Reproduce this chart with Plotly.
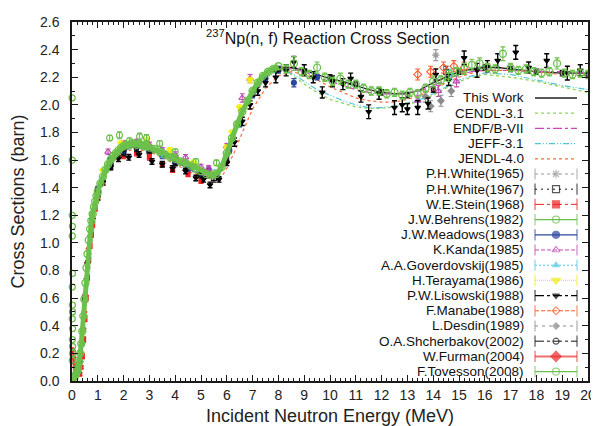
import plotly.graph_objects as go

# ---------------- data ----------------
TW_E = [0.0, 0.05, 0.1, 0.15, 0.2, 0.25, 0.3, 0.35, 0.4, 0.45,
        0.5, 0.55, 0.6, 0.65, 0.7, 0.75, 0.8, 0.9, 1.0, 1.2,
        1.4, 1.6, 1.8, 2.0, 2.3, 2.6, 3.0, 3.5, 4.0, 4.5,
        5.0, 5.3, 5.6, 5.8, 6.0, 6.2, 6.4, 6.6, 6.8, 7.0,
        7.3, 7.6, 8.0, 8.5, 9.0, 9.5, 10.0, 10.5, 11.0, 11.5,
        12.0, 12.5, 13.0, 13.5, 14.0, 14.5, 15.0, 15.5, 16.0, 16.5,
        17.0, 17.5, 18.0, 19.0, 20.0]
TW_S = [0.0, 0.01, 0.02, 0.04, 0.06, 0.1, 0.15, 0.22, 0.32, 0.45,
        0.6, 0.76, 0.9, 1.01, 1.09, 1.15, 1.2, 1.28, 1.35, 1.46,
        1.54, 1.6, 1.64, 1.67, 1.69, 1.70, 1.68, 1.64, 1.59, 1.54,
        1.49, 1.47, 1.48, 1.54, 1.64, 1.75, 1.85, 1.94, 2.02, 2.09,
        2.17, 2.23, 2.27, 2.27, 2.25, 2.22, 2.19, 2.17, 2.14, 2.11,
        2.09, 2.08, 2.08, 2.11, 2.16, 2.2, 2.24, 2.26, 2.27, 2.27,
        2.26, 2.25, 2.24, 2.23, 2.23]

EV_E = [0.0, 0.1, 0.2, 0.3, 0.4, 0.5, 0.6, 0.7, 0.8, 1.0,
        1.2, 1.5, 2.0, 2.5, 3.0, 3.5, 4.0, 4.5, 5.0, 5.5,
        5.8, 6.0, 6.3, 6.6, 7.0, 7.5, 8.0, 8.5, 9.0, 9.5,
        10.0, 10.5, 11.0, 11.5, 12.0, 12.5, 13.0, 13.5, 14.0, 14.5,
        15.0, 15.5, 16.0, 17.0, 18.0, 19.0, 20.0]
CENDL_S = [0.0, 0.02, 0.06, 0.15, 0.32, 0.6, 0.9, 1.09, 1.2, 1.35,
           1.46, 1.58, 1.67, 1.69, 1.67, 1.63, 1.58, 1.53, 1.49, 1.47,
           1.53, 1.62, 1.78, 1.92, 2.07, 2.2, 2.26, 2.22, 2.15, 2.09,
           2.04, 2.01, 1.985, 1.975, 1.975, 1.985, 2.0, 2.03, 2.07, 2.12,
           2.17, 2.2, 2.22, 2.2, 2.17, 2.13, 2.09]
ENDF_S = [0.0, 0.02, 0.06, 0.15, 0.32, 0.6, 0.9, 1.09, 1.2, 1.35,
          1.46, 1.58, 1.67, 1.70, 1.68, 1.64, 1.59, 1.54, 1.49, 1.47,
          1.52, 1.62, 1.78, 1.93, 2.08, 2.2, 2.26, 2.26, 2.24, 2.2,
          2.17, 2.14, 2.11, 2.09, 2.08, 2.08, 2.09, 2.1, 2.14, 2.18,
          2.22, 2.24, 2.25, 2.25, 2.24, 2.24, 2.23]
JEFF_S = [0.0, 0.02, 0.06, 0.15, 0.32, 0.6, 0.9, 1.09, 1.2, 1.35,
          1.46, 1.58, 1.67, 1.69, 1.67, 1.63, 1.58, 1.53, 1.49, 1.47,
          1.52, 1.61, 1.77, 1.92, 2.07, 2.19, 2.25, 2.23, 2.17, 2.11,
          2.07, 2.03, 2.0, 1.98, 1.98, 1.99, 2.01, 2.04, 2.08, 2.13,
          2.18, 2.21, 2.23, 2.22, 2.18, 2.14, 2.11]
JENDL_S = [0.0, 0.02, 0.05, 0.13, 0.3, 0.58, 0.88, 1.07, 1.19, 1.34,
           1.45, 1.57, 1.66, 1.68, 1.66, 1.62, 1.57, 1.52, 1.48, 1.46,
           1.48, 1.54, 1.66, 1.8, 1.97, 2.12, 2.21, 2.24, 2.22, 2.18,
           2.13, 2.09, 2.05, 2.03, 2.02, 2.02, 2.04, 2.07, 2.11, 2.16,
           2.2, 2.23, 2.25, 2.25, 2.24, 2.22, 2.21]

LIS_E = [0.6, 0.8, 1.0, 1.2, 1.5, 1.8, 2.2, 2.6, 3.1, 3.5,
         3.9, 4.4, 4.8, 5.1, 5.35, 5.7, 6.0, 6.3, 6.6, 6.9,
         7.2, 7.5, 7.9, 8.3, 8.6, 9.0, 9.35, 9.7, 10.1, 10.5,
         10.8, 11.2, 11.5, 11.9, 12.5, 12.8, 13.0, 13.4, 13.8, 14.1,
         14.6, 15.2, 15.7, 16.1, 16.5, 17.2, 17.7, 18.4, 19.2, 19.7]
LIS_S = [0.85, 1.17, 1.33, 1.44, 1.55, 1.61, 1.62, 1.64, 1.59, 1.57,
         1.54, 1.52, 1.47, 1.46, 1.42, 1.46, 1.58, 1.73, 1.88, 2.0,
         2.1, 2.16, 2.2, 2.25, 2.31, 2.25, 2.2, 2.09, 2.17, 2.15,
         2.19, 2.06, 1.95, 2.08, 1.98, 2.0, 1.97, 1.98, 2.01, 2.22,
         2.18, 2.34, 2.25, 2.28, 2.32, 2.38, 2.27, 2.32, 2.23, 2.25]
LIS_ERR = [0.02, 0.02, 0.02, 0.02, 0.02, 0.02, 0.02, 0.02, 0.02, 0.02,
           0.02, 0.02, 0.02, 0.02, 0.02, 0.02, 0.02, 0.03, 0.03, 0.03,
           0.03, 0.03, 0.04, 0.04, 0.04, 0.04, 0.04, 0.04, 0.04, 0.04,
           0.04, 0.04, 0.05, 0.04, 0.05, 0.05, 0.04, 0.05, 0.04, 0.04,
           0.04, 0.05, 0.05, 0.04, 0.05, 0.05, 0.04, 0.05, 0.05, 0.04]

TOV_VLO_E = [0.005, 0.01, 0.01, 0.015, 0.01, 0.02, 0.01, 0.015, 0.02, 0.01,
             0.02, 0.015, 0.02, 0.025, 0.01]
TOV_VLO_S = [2.05, 1.6, 1.2, 1.12, 1.05, 0.78, 0.68, 0.55, 0.5, 0.45,
             0.38, 0.3, 0.25, 0.2, 0.15]

TOV_LO_E = [0.02, 0.05, 0.08, 0.1, 0.13, 0.16, 0.2, 0.24, 0.28, 0.32,
            0.36, 0.4, 0.44, 0.48, 0.52, 0.56, 0.6, 0.65, 0.7, 0.75,
            0.8, 0.85, 0.9, 0.95, 1.0, 1.1, 1.2, 1.3, 1.4, 1.5,
            1.6, 1.7, 1.8, 1.9, 2.0, 2.1, 2.2, 2.3, 2.4, 2.5,
            2.6, 2.7, 2.8, 2.9, 3.0, 3.2, 3.4, 3.6, 3.8, 4.0,
            4.2, 4.4, 4.6, 4.8, 5.0, 5.2, 5.4, 5.6, 5.8, 6.0,
            6.2, 6.4, 6.6, 6.8, 7.0, 7.2, 7.4, 7.6, 7.8, 8.0]
TOV_LO_S = [0.01, 0.02, 0.03, 0.03, 0.04, 0.05, 0.07, 0.1, 0.14, 0.2,
            0.27, 0.36, 0.47, 0.59, 0.71, 0.82, 0.92, 1.02, 1.1, 1.16,
            1.21, 1.26, 1.3, 1.34, 1.37, 1.43, 1.48, 1.53, 1.57, 1.6,
            1.63, 1.65, 1.67, 1.69, 1.70, 1.71, 1.71, 1.72, 1.72, 1.71,
            1.72, 1.71, 1.70, 1.70, 1.69, 1.68, 1.66, 1.64, 1.62, 1.61,
            1.59, 1.58, 1.56, 1.54, 1.52, 1.5, 1.49, 1.5, 1.55, 1.65,
            1.76, 1.86, 1.95, 2.03, 2.1, 2.16, 2.21, 2.24, 2.26, 2.28]

TOV_HI_E = [8.3, 8.6, 8.9, 9.2, 9.5, 9.8, 10.1, 10.4, 10.7, 11.0,
            11.3, 11.6, 11.9, 12.2, 12.5, 12.8, 13.1, 13.4, 13.7, 14.0,
            14.3, 14.6, 14.9, 15.2, 15.5, 15.8, 16.1, 16.4, 16.7, 17.0,
            17.3, 17.6, 17.9, 18.2, 18.5, 18.8, 19.1, 19.4, 19.7, 20.0]
TOV_HI_S = [2.26, 2.3, 2.24, 2.22, 2.27, 2.2, 2.17, 2.19, 2.15, 2.15,
            2.12, 2.1, 2.1, 2.08, 2.09, 2.07, 2.09, 2.08, 2.12, 2.17,
            2.18, 2.21, 2.24, 2.26, 2.29, 2.3, 2.27, 2.26, 2.37, 2.27,
            2.25, 2.26, 2.24, 2.23, 2.24, 2.3, 2.23, 2.22, 2.23, 2.22]
TOV_HI_ERR = [0.03, 0.05, 0.03, 0.03, 0.04, 0.03, 0.03, 0.04, 0.03, 0.03,
              0.03, 0.03, 0.03, 0.03, 0.03, 0.03, 0.03, 0.03, 0.03, 0.04,
              0.03, 0.04, 0.03, 0.04, 0.04, 0.04, 0.03, 0.03, 0.05, 0.03,
              0.03, 0.03, 0.03, 0.03, 0.03, 0.04, 0.03, 0.03, 0.03, 0.03]

BEH_E = [1.46, 1.84, 2.23, 2.62, 2.89, 3.4, 4.0, 4.8, 5.6]
BEH_S = [1.76, 1.78, 1.74, 1.77, 1.76, 1.72, 1.66, 1.59, 1.58]
BEH_ERR = [0.02, 0.025, 0.02, 0.025, 0.025, 0.02, 0.02, 0.02, 0.02]

MEA_E = [1.0, 1.5, 2.0, 2.5, 3.0, 3.5, 4.0, 4.5, 5.0, 5.3, 5.6, 6.1, 6.5, 7.0, 7.5, 8.0, 8.6, 9.5]
MEA_S = [1.38, 1.57, 1.66, 1.69, 1.67, 1.63, 1.58, 1.54, 1.5, 1.53, 1.49, 1.67, 1.86, 2.07, 2.19, 2.25, 2.16, 2.2]
MEA_ERR = [0.02, 0.02, 0.02, 0.02, 0.02, 0.02, 0.02, 0.02, 0.02, 0.02, 0.02, 0.02, 0.02, 0.02, 0.02, 0.02, 0.03, 0.02]

STE_E = [0.3, 0.35, 0.4, 0.45, 0.5, 0.55, 0.6, 0.65, 0.7, 0.75, 0.8, 0.9, 1.0, 1.2, 1.5, 2.0, 2.5, 3.0, 3.5, 3.9, 4.5, 5.0]
STE_S = [0.05, 0.1, 0.18, 0.3, 0.45, 0.6, 0.75, 0.88, 0.98, 1.06, 1.13, 1.25, 1.33, 1.44, 1.55, 1.63, 1.65, 1.62, 1.57, 1.53, 1.5, 1.45]
STE_ERR = [0.01, 0.01, 0.02, 0.02, 0.02, 0.02, 0.02, 0.02, 0.02, 0.02, 0.02, 0.02, 0.02, 0.02, 0.02, 0.02, 0.02, 0.02, 0.02, 0.02, 0.02, 0.02]

FUR_E = [0.03, 0.06, 0.09, 0.12, 0.15, 0.18, 0.21, 0.24, 0.27, 0.3,
         0.33, 0.36, 0.4, 0.44, 0.48, 0.52, 0.56, 0.6, 0.65, 0.7, 0.75]
FUR_S = [0.22, 0.17, 0.13, 0.1, 0.08, 0.06, 0.05, 0.05, 0.06, 0.09,
         0.14, 0.2, 0.28, 0.38, 0.5, 0.62, 0.74, 0.85, 0.96, 1.05, 1.12]
FUR_ERR = [0.02, 0.02, 0.01, 0.01, 0.01, 0.01, 0.01, 0.01, 0.01, 0.01,
           0.01, 0.01, 0.02, 0.02, 0.02, 0.02, 0.03, 0.03, 0.03, 0.03, 0.03]

KAN_E = [1.4, 2.0, 2.5, 3.0, 3.5, 4.0, 4.4, 5.0, 5.3, 6.0, 6.6, 6.9, 13.4, 14.2, 14.9]
KAN_S = [1.66, 1.72, 1.73, 1.71, 1.67, 1.64, 1.62, 1.55, 1.54, 1.7, 2.05, 2.19, 2.03, 2.1, 2.17]
KAN_ERR = [0.02, 0.02, 0.02, 0.02, 0.02, 0.02, 0.02, 0.02, 0.02, 0.02, 0.03, 0.03, 0.04, 0.04, 0.04]

GOV_E = [0.8, 1.5, 2.5, 3.5, 4.7, 5.5, 14.7]
GOV_S = [1.22, 1.6, 1.7, 1.65, 1.56, 1.5, 2.22]
GOV_ERR = [0.03, 0.03, 0.03, 0.03, 0.03, 0.03, 0.04]

TER_E = [1.2, 1.9, 2.9, 3.8, 4.7, 5.5, 6.0, 6.2, 6.5, 6.9]
TER_S = [1.52, 1.72, 1.745, 1.67, 1.58, 1.5, 1.69, 1.8, 1.98, 2.18]
TER_ERR = [0.02, 0.02, 0.02, 0.02, 0.02, 0.02, 0.02, 0.02, 0.02, 0.02]

MAN_E = [13.4, 13.9, 14.4, 14.8, 15.2]
MAN_S = [2.22, 2.24, 2.27, 2.28, 2.27]
MAN_ERR = [0.04, 0.04, 0.04, 0.04, 0.04]

WH65_E = [1.0, 2.0, 3.0, 4.0, 14.1]
WH65_S = [1.35, 1.68, 1.66, 1.58, 2.36]
WH65_ERR = [0.03, 0.03, 0.03, 0.03, 0.04]

WH67_E = [0.5, 1.0, 1.5, 2.0, 3.0, 4.0, 5.5, 14.5]
WH67_S = [0.6, 1.38, 1.6, 1.68, 1.67, 1.6, 1.47, 2.24]
WH67_ERR = [0.03, 0.03, 0.03, 0.03, 0.03, 0.03, 0.03, 0.04]

DES_E = [13.7, 13.9, 14.3, 14.7]
DES_S = [2.06, 1.99, 2.03, 2.1]
DES_ERR = [0.04, 0.04, 0.04, 0.04]

SHC_E = [1.0, 1.5, 2.0, 2.5, 3.0, 4.0, 5.0, 6.0, 7.0, 8.0, 9.0, 10.0, 11.0,
         12.0, 13.0, 14.0, 15.0, 16.0, 17.0, 18.0, 19.0, 20.0]
SHC_S = [1.36, 1.56, 1.65, 1.68, 1.67, 1.58, 1.49, 1.62, 2.08, 2.26, 2.24, 2.2, 2.15,
         2.09, 2.07, 2.11, 2.24, 2.27, 2.26, 2.24, 2.23, 2.22]
SHC_ERR = [0.02, 0.02, 0.02, 0.02, 0.02, 0.02, 0.02, 0.02, 0.02, 0.02, 0.02, 0.02, 0.02,
           0.02, 0.02, 0.02, 0.02, 0.02, 0.02, 0.02, 0.02, 0.02]

LEGEND_NAMES = ["This Work", "CENDL-3.1", "ENDF/B-VII", "JEFF-3.1", "JENDL-4.0",
                "P.H.White(1965)", "P.H.White(1967)", "W.E.Stein(1968)",
                "J.W.Behrens(1982)", "J.W.Meadows(1983)", "K.Kanda(1985)",
                "A.A.Goverdovskij(1985)", "H.Terayama(1986)", "P.W.Lisowski(1988)",
                "F.Manabe(1988)", "L.Desdin(1989)", "O.A.Shcherbakov(2002)",
                "W.Furman(2004)", "F.Tovesson(2008)"]

TITLE = "<sup>237</sup>Np(n, f) Reaction Cross Section"
X_TITLE = "Incident Neutron Energy (MeV)"
Y_TITLE = "Cross Sections (barn)"

# ---------------- styles ----------------
C_TW = "#222222"
C_CENDL = "#8fd35a"
C_ENDF = "#cc44bb"
C_JEFF = "#4fc6d8"
C_JENDL = "#ff6a3a"
C_WH65 = "#9a9a9a"
C_WH67 = "#111111"
C_STE = "#ee2020"
C_BEH = "#6abf4a"
C_MEA = "#2d46a0"
C_KAN = "#c04cb0"
C_GOV = "#55c8e4"
C_TER = "#eeee10"
C_LIS = "#000000"
C_MAN = "#ff5a28"
C_DES = "#8c8c8c"
C_SHC = "#111111"
C_FUR = "#ee2a2a"
C_TOV = "#6cc04c"

FONT = "Liberation Sans, Arial, Helvetica, sans-serif"

fig = go.Figure()


def add_line(E, S, color, dash, width=1.2):
    fig.add_trace(go.Scatter(x=E, y=S, mode="lines", showlegend=False,
                             hoverinfo="skip",
                             line=dict(color=color, dash=dash, width=width)))


def add_points(E, S, err, color, symbol, size=6, mlw=1.1, thick=1.1, cap=2.5):
    fig.add_trace(go.Scatter(x=E, y=S, mode="markers", showlegend=False,
                             hoverinfo="skip",
                             marker=dict(symbol=symbol, size=size, color=color,
                                         line=dict(color=color, width=mlw)),
                             error_y=dict(type="data", array=err, color=color,
                                          thickness=thick, width=cap)))


# evaluations
add_line(TW_E, TW_S, C_TW, "solid", 1.4)
add_line(EV_E, CENDL_S, C_CENDL, "dot", 1.3)
add_line(EV_E, ENDF_S, C_ENDF, "dashdot", 1.2)
add_line(EV_E, JEFF_S, C_JEFF, "6px,2px,1px,2px,1px,2px", 1.2)
add_line(EV_E, JENDL_S, C_JENDL, "3px,3px", 1.2)

# experiments
add_points(WH65_E, WH65_S, WH65_ERR, C_WH65, "asterisk-open", 6)
add_points(WH67_E, WH67_S, WH67_ERR, C_WH67, "square-open", 5)
add_points(STE_E, STE_S, STE_ERR, C_STE, "square", 4)
add_points(FUR_E, FUR_S, FUR_ERR, C_FUR, "diamond", 4, thick=1.0, cap=1.5)
add_points(MEA_E, MEA_S, MEA_ERR, C_MEA, "circle", 5)
add_points(KAN_E, KAN_S, KAN_ERR, C_KAN, "triangle-up-open", 6)
add_points(GOV_E, GOV_S, GOV_ERR, C_GOV, "triangle-up", 5)
add_points(TER_E, TER_S, TER_ERR, C_TER, "triangle-down", 6)
add_points(MAN_E, MAN_S, MAN_ERR, C_MAN, "diamond-open", 6)
add_points(DES_E, DES_S, DES_ERR, C_DES, "diamond", 5)
add_points(SHC_E, SHC_S, SHC_ERR, C_SHC, "circle-open", 4)
add_points(LIS_E, LIS_S, LIS_ERR, C_LIS, "triangle-down", 5, thick=1.4, cap=2.5)
add_points(BEH_E, BEH_S, BEH_ERR, C_BEH, "circle-open", 6)

# Tovesson: dense band + high-energy points + lowest-energy scatter
fig.add_trace(go.Scatter(x=TOV_LO_E, y=TOV_LO_S, mode="lines+markers",
                         showlegend=False, hoverinfo="skip",
                         line=dict(color=C_TOV, width=5),
                         marker=dict(symbol="circle-open", size=7, color=C_TOV,
                                     line=dict(color=C_TOV, width=1.4))))
add_points(TOV_HI_E, TOV_HI_S, TOV_HI_ERR, C_TOV, "circle-open", 7, mlw=1.3, thick=1.1, cap=2.5)
fig.add_trace(go.Scatter(x=TOV_VLO_E, y=TOV_VLO_S, mode="markers",
                         showlegend=False, hoverinfo="skip", cliponaxis=False,
                         marker=dict(symbol="circle-open", size=6, color=C_TOV,
                                     line=dict(color=C_TOV, width=1.3))))

# ---------------- custom legend (gnuplot style: text right, sample left) ----------------
LEG_STYLE = [
    (C_TW, "solid", None, 0, 1.5),
    (C_CENDL, "dot", None, 0, 1.3),
    (C_ENDF, "dashdot", None, 0, 1.2),
    (C_JEFF, "6px,2px,1px,2px,1px,2px", None, 0, 1.2),
    (C_JENDL, "3px,3px", None, 0, 1.2),
    (C_WH65, "3px,3px", "asterisk-open", 7, 1.0),
    (C_WH67, "2px,4px", "square-open", 7, 1.0),
    (C_STE, "dashdot", "square", 7, 1.0),
    (C_BEH, "solid", "circle-open", 7, 1.2),
    (C_MEA, "solid", "circle", 7, 1.2),
    (C_KAN, "4px,2px", "triangle-up-open", 7, 1.0),
    (C_GOV, "2px,2px", "triangle-up", 6, 1.0),
    (C_TER, "1px,1px", "triangle-down", 8, 1.3),
    (C_LIS, "dashdot", "triangle-down", 6, 1.1),
    (C_MAN, "4px,2px", "diamond-open", 6, 1.0),
    (C_DES, "3px,4px", "diamond", 5, 1.0),
    (C_SHC, "dashdot", "circle-open", 6, 1.0),
    ("#f07070", "solid", "diamond", 8, 2.0),
    (C_TOV, "solid", "circle-open", 7, 1.2),
]
LX0, LXM, LX1, LXT = 0.8973, 0.938, 0.9787, 0.8798

annotations = []
for i, (name, (col, dash, sym, msz, lw)) in enumerate(zip(LEGEND_NAMES, LEG_STYLE)):
    if sym is None:
        fig.add_trace(go.Scatter(x=[LX0, LX1], y=[i, i], xaxis="x2", yaxis="y2",
                                 mode="lines", showlegend=False, hoverinfo="skip",
                                 line=dict(color=col, dash=dash, width=lw)))
    else:
        mcol = C_FUR if name.startswith("W.Furman") else col
        fig.add_trace(go.Scatter(x=[LX0, LXM, LX1], y=[i, i, i], xaxis="x2", yaxis="y2",
                                 mode="lines+markers", showlegend=False, hoverinfo="skip",
                                 line=dict(color=col, dash=dash, width=lw),
                                 marker=dict(symbol=["line-ns-open", sym, "line-ns-open"],
                                             size=[8, msz, 8], color=mcol,
                                             line=dict(color=mcol, width=1.2))))
    annotations.append(dict(x=LXT, y=i, xref="x2", yref="y2", text=name,
                            showarrow=False, xanchor="right", yanchor="middle",
                            font=dict(family=FONT, size=13.5, color="#111111")))

annotations.append(dict(x=0.497, y=0.957, xref="paper", yref="paper", text=TITLE,
                        showarrow=False, xanchor="center", yanchor="middle",
                        font=dict(family=FONT, size=16, color="#111111")))

axis_common = dict(showline=True, linecolor="#1a1a1a", linewidth=1.5, mirror="ticks",
                   ticks="inside", ticklen=6, tickwidth=1, tickcolor="#1a1a1a",
                   showgrid=False, zeroline=False, automargin=False,
                   tickfont=dict(family=FONT, size=14, color="#222222"))

# the page body has an 8px margin, so the figure is sized/offset to fill the window
fig.update_layout(
    width=591, height=418,
    margin=dict(l=64, r=11, t=14, b=45),
    paper_bgcolor="white", plot_bgcolor="rgba(0,0,0,0)",
    showlegend=False,
    annotations=annotations,
    xaxis=dict(range=[0, 20], dtick=1, tick0=0,
               minor=dict(dtick=0.2, ticks="inside", ticklen=3, tickwidth=1, tickcolor="#1a1a1a"),
               title=dict(text=X_TITLE, standoff=11, font=dict(family=FONT, size=18, color="#222222")),
               ticklabelstandoff=0,
               **axis_common),
    yaxis=dict(range=[0, 2.6], dtick=0.2, tick0=0, tickformat=".1f",
               minor=dict(dtick=0.1, ticks="inside", ticklen=3, tickwidth=1, tickcolor="#1a1a1a"),
               title=dict(text=Y_TITLE, standoff=12, font=dict(family=FONT, size=18, color="#222222")),
               ticklabelstandoff=8,
               **axis_common),
    xaxis2=dict(overlaying="x", range=[0, 1], visible=False, fixedrange=True, automargin=False),
    yaxis2=dict(overlaying="y", range=[18.62, -5.0], visible=False, fixedrange=True, automargin=False),
)

fig.write_html("out.html")
